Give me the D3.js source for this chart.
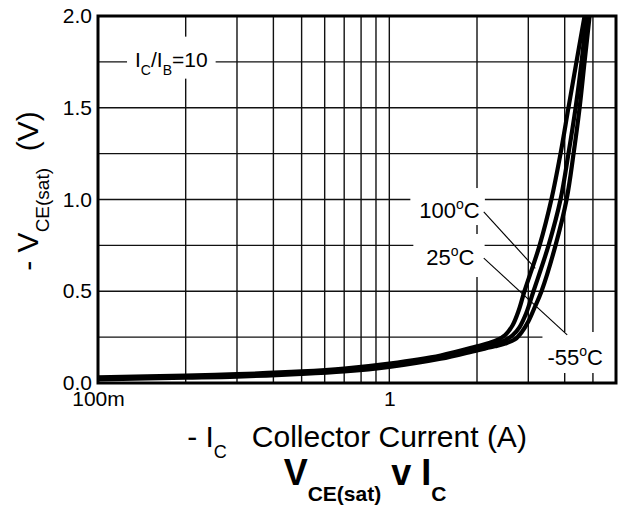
<!DOCTYPE html>
<html>
<head>
<meta charset="utf-8">
<script src="https://cdn.jsdelivr.net/npm/d3@7"></script>
<style>
  body { margin: 0; background: #fff; }
  svg { display: block; font-family: "Liberation Sans", Arial, Helvetica, sans-serif; }
</style>
</head>
<body>
<svg id="chart" width="618" height="510"></svg>
<script>
// Saturation voltage vs collector current, IC/IB = 10, three junction temperatures
const currentHot  = [0.1, 0.2, 0.3, 0.5, 0.7, 1.0, 1.5, 2.0, 2.2, 2.35, 2.5, 2.65, 2.78, 2.91, 3.28, 3.60, 3.87, 4.12, 4.39, 4.68];
const vceHot      = [0.031, 0.041, 0.048, 0.063, 0.079, 0.106, 0.150, 0.200, 0.218, 0.235, 0.262, 0.315, 0.395, 0.5, 0.75, 1.0, 1.25, 1.5, 1.75, 2.0];

const currentRoom = [0.1, 0.2, 0.3, 0.5, 0.7, 1.0, 1.5, 2.0, 2.3, 2.5, 2.65, 2.8, 2.95, 3.125, 3.52, 3.87, 4.12, 4.36, 4.57, 4.75];
const vceRoom     = [0.025, 0.035, 0.041, 0.056, 0.071, 0.097, 0.141, 0.190, 0.214, 0.234, 0.26, 0.305, 0.38, 0.5, 0.75, 1.0, 1.25, 1.5, 1.75, 2.0];

const currentCold = [0.1, 0.2, 0.3, 0.5, 0.7, 1.0, 1.5, 2.0, 2.3, 2.5, 2.7, 2.85, 3.0, 3.15, 3.33, 3.72, 4.06, 4.29, 4.50, 4.68, 4.87];
const vceCold     = [0.020, 0.029, 0.035, 0.049, 0.063, 0.088, 0.132, 0.178, 0.200, 0.215, 0.238, 0.278, 0.335, 0.41, 0.5, 0.75, 1.0, 1.25, 1.5, 1.75, 2.0];

// Axis ticks and grid
const voltTicks    = [0, 0.5, 1.0, 1.5, 2.0];
const voltGrid     = [0.25, 0.5, 0.75, 1.0, 1.25, 1.5, 1.75];
const currentTicks = [0.1, 1];
const currentTickLabels = ["100m", "1"];
const currentGrid  = [0.2, 0.3, 0.4, 0.5, 0.6, 0.7, 0.8, 0.9, 1, 2, 3, 4, 5];

const svg = d3.select("#chart");
const plot = { left: 98, top: 16, right: 616, bottom: 383 };

const x = d3.scaleLog().domain([0.1, 6]).range([plot.left, plot.right]);
const y = d3.scaleLinear().domain([0, 2]).range([plot.bottom, plot.top]);

svg.append("defs").append("clipPath").attr("id", "plotClip")
  .append("rect")
  .attr("x", plot.left).attr("y", plot.top)
  .attr("width", plot.right - plot.left).attr("height", plot.bottom - plot.top);

// Grid
const grid = svg.append("g").attr("stroke", "#111").attr("stroke-width", 1.4);
grid.selectAll("line.v").data(currentGrid).join("line").attr("class", "v")
  .attr("x1", d => x(d)).attr("x2", d => x(d))
  .attr("y1", plot.top).attr("y2", plot.bottom);
grid.selectAll("line.h").data(voltGrid).join("line").attr("class", "h")
  .attr("x1", plot.left).attr("x2", plot.right)
  .attr("y1", d => y(d)).attr("y2", d => y(d));

// Annotation labels (white boxes interrupt the grid)
const boxLayer = svg.append("g");
const textLayer = svg.append("g");

function degreeLabel(g, value) {
  g.append("tspan").text(value);
  g.append("tspan").attr("font-size", 14).attr("dy", -9).text("o");
  g.append("tspan").attr("dy", 9).text("C");
}

const labels = [
  { at: [0.134, 1.724], size: 21, pad: [8, 8, 11, 1], build: g => {
      g.append("tspan").text("I");
      g.append("tspan").attr("font-size", 14).attr("dy", 8).text("C");
      g.append("tspan").attr("dy", -8).text("/I");
      g.append("tspan").attr("font-size", 14).attr("dy", 8).text("B");
      g.append("tspan").attr("dy", -8).text("=10");
  }},
  { at: [1.268, 0.899], size: 22, pad: [9, 5, 8, 2], build: g => degreeLabel(g, "100") },
  { at: [1.34, 0.643], size: 22, pad: [13, 10, 9, 7], build: g => degreeLabel(g, "25") },
  { at: [3.49, 0.098], size: 22, pad: [5, 16, 11, 3], build: g => degreeLabel(g, "-55") }
];

labels.forEach(l => {
  const t = textLayer.append("text")
    .attr("x", x(l.at[0])).attr("y", y(l.at[1]))
    .attr("font-size", l.size).attr("fill", "#000");
  l.build(t);
  const b = t.node().getBBox();
  boxLayer.append("rect")
    .attr("x", b.x - l.pad[0]).attr("y", b.y - l.pad[2])
    .attr("width", b.width + l.pad[0] + l.pad[1])
    .attr("height", b.height + l.pad[2] + l.pad[3])
    .attr("fill", "#fff");
});

// Curves
const series = [
  { i: currentHot, v: vceHot },
  { i: currentRoom, v: vceRoom },
  { i: currentCold, v: vceCold }
];
const line = d3.line().x(d => x(d[0])).y(d => y(d[1])).curve(d3.curveCatmullRom.alpha(0.5));
svg.append("g").attr("clip-path", "url(#plotClip)")
  .selectAll("path").data(series).join("path")
  .attr("d", s => line(s.i.map((c, k) => [c, s.v[k]])))
  .attr("fill", "none").attr("stroke", "#000").attr("stroke-width", 4.2)
  .attr("stroke-linejoin", "round");

// Leader lines from labels to curves
const leaders = [
  [[2.11, 0.933], [3.17, 0.625]],
  [[2.11, 0.680], [4.08, 0.262]]
];
svg.append("g").selectAll("line").data(leaders).join("line")
  .attr("x1", d => x(d[0][0])).attr("y1", d => y(d[0][1]))
  .attr("x2", d => x(d[1][0])).attr("y2", d => y(d[1][1]))
  .attr("stroke", "#000").attr("stroke-width", 1.1);

textLayer.raise();

// Frame
svg.append("rect")
  .attr("x", plot.left).attr("y", plot.top)
  .attr("width", plot.right - plot.left).attr("height", plot.bottom - plot.top)
  .attr("fill", "none").attr("stroke", "#000").attr("stroke-width", 3);

// Axes
const yAxis = d3.axisLeft(y).tickValues(voltTicks).tickFormat(d3.format(".1f")).tickSize(0).tickPadding(6);
const yG = svg.append("g").attr("transform", `translate(${plot.left},0)`).call(yAxis);
yG.select(".domain").remove();
yG.selectAll("text").attr("font-size", 21).attr("font-family", "Liberation Sans, Arial, sans-serif").attr("fill", "#000");

const xAxis = d3.axisBottom(x).tickValues(currentTicks)
  .tickFormat((d, k) => currentTickLabels[k]).tickSize(0).tickPadding(8);
const xG = svg.append("g").attr("transform", `translate(0,${plot.bottom})`).call(xAxis);
xG.select(".domain").remove();
xG.selectAll("text").attr("font-size", 21).attr("font-family", "Liberation Sans, Arial, sans-serif").attr("fill", "#000");

// Axis titles
const yTitle = svg.append("text")
  .attr("transform", "translate(38,191) rotate(-90)")
  .attr("text-anchor", "middle").attr("font-size", 30).attr("fill", "#000");
yTitle.append("tspan").text("- V");
yTitle.append("tspan").attr("font-size", 19).attr("dy", 11).text("CE(sat)");
yTitle.append("tspan").attr("dy", -11).text("\u00a0\u00a0(V)");

const xTitle = svg.append("text")
  .attr("x", 357).attr("y", 447)
  .attr("text-anchor", "middle").attr("font-size", 30).attr("fill", "#000");
xTitle.append("tspan").text("- I");
xTitle.append("tspan").attr("font-size", 18).attr("dy", 11).text("C");
xTitle.append("tspan").attr("dy", -11).text("\u00a0\u00a0\u00a0Collector Current (A)");

const title = svg.append("text")
  .attr("x", 365).attr("y", 485)
  .attr("text-anchor", "middle").attr("font-size", 36).attr("font-weight", "bold").attr("fill", "#000");
title.append("tspan").text("V");
title.append("tspan").attr("font-size", 21).attr("dy", 16).text("CE(sat)");
title.append("tspan").attr("dy", -16).text(" v I");
title.append("tspan").attr("font-size", 21).attr("dy", 16).text("C");
</script>
</body>
</html>
